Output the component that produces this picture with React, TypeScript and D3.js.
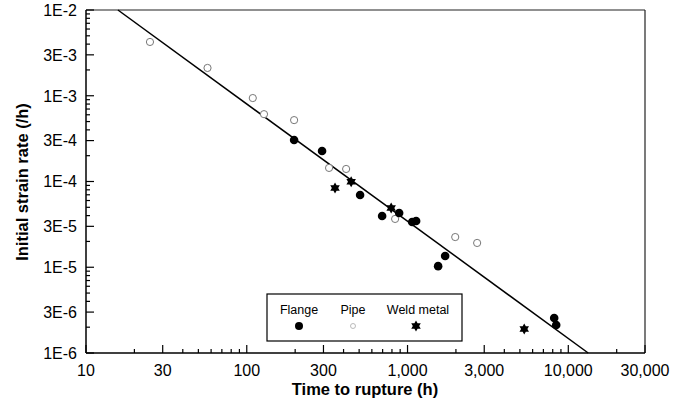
import React from 'react';
import * as d3 from 'd3';

// values (time to rupture in h, initial strain rate in /h)
const flangeTime = [197, 294, 507, 695, 887, 1069, 1131, 1550, 1714, 8170, 8410];
const flangeRate = [3.05e-4, 2.27e-4, 6.96e-5, 3.96e-5, 4.3e-5, 3.37e-5, 3.46e-5, 1.03e-5, 1.35e-5, 2.56e-6, 2.12e-6];

const pipeTime = [25, 57, 109, 128, 197, 325, 415, 837, 1980, 2710];
const pipeRate = [4.24e-3, 2.11e-3, 9.4e-4, 6.1e-4, 5.2e-4, 1.44e-4, 1.4e-4, 3.66e-5, 2.25e-5, 1.92e-5];

const weldTime = [354, 446, 791, 5320];
const weldRate = [8.4e-5, 9.9e-5, 4.9e-5, 1.9e-6];

const fitTime = [15.8, 13300];
const fitRate = [1e-2, 1e-6];

const xTicks = [10, 30, 100, 300, 1000, 3000, 10000, 30000];
const xTickLabels = ['10', '30', '100', '300', '1,000', '3,000', '10,000', '30,000'];
const yTicks = [1e-6, 3e-6, 1e-5, 3e-5, 1e-4, 3e-4, 1e-3, 3e-3, 1e-2];
const yTickLabels = ['1E-6', '3E-6', '1E-5', '3E-5', '1E-4', '3E-4', '1E-3', '3E-3', '1E-2'];

const legendNames = ['Flange', 'Pipe', 'Weld metal'];

const font = '"Liberation Sans", Arial, sans-serif';

// six pointed star
function hexagram(cx: number, cy: number, r: number) {
  const pts: [number, number][] = [];
  for (let i = 0; i < 12; i++) {
    const a = (Math.PI / 6) * i - Math.PI / 2;
    const rr = i % 2 === 0 ? r : r / Math.sqrt(3);
    pts.push([cx + rr * Math.cos(a), cy + rr * Math.sin(a)]);
  }
  return 'M' + pts.map(p => p.join(',')).join('L') + 'Z';
}

export default function App() {
  const left = 86, right = 645, top = 10, bottom = 353;

  const x = d3.scaleLog().domain([10, 30000]).range([left, right]);
  const y = d3.scaleLog().domain([1e-6, 1e-2]).range([bottom, top]);

  // minor ticks 1..9 per decade
  const xMinor: number[] = [];
  for (let k = 1; k <= 4; k++) for (let m = 1; m <= 9; m++) {
    const v = m * Math.pow(10, k);
    if (v <= 30000) xMinor.push(v);
  }
  const yMinor: number[] = [];
  for (let k = -6; k <= -3; k++) for (let m = 1; m <= 9; m++) yMinor.push(m * Math.pow(10, k));
  yMinor.push(1e-2);

  const line = d3.line<number>()
    .x((d, i) => x(fitTime[i]))
    .y(d => y(d));

  const major = (v: number) => {
    const m = Math.round(v / Math.pow(10, Math.floor(Math.log10(v) + 1e-9)));
    return m === 1 || m === 3;
  };

  return (
    <svg width={685} height={405} style={{ position: 'absolute', left: 0, top: 0, background: '#fff' }}>
      {/* frame */}
      <line x1={left} y1={top} x2={right} y2={top} stroke="#222" strokeWidth={1.2} />
      <line x1={right} y1={top} x2={right} y2={bottom} stroke="#222" strokeWidth={1.2} />
      <line x1={left} y1={top} x2={left} y2={bottom} stroke="#000" strokeWidth={1.5} />
      <line x1={left} y1={bottom} x2={right} y2={bottom} stroke="#000" strokeWidth={1.5} />

      {xMinor.map((v, i) => (
        <line key={'xm' + i} x1={x(v)} x2={x(v)} y1={bottom} y2={bottom - (major(v) ? 8 : 4)} stroke="#000" strokeWidth={1.2} />
      ))}
      {yMinor.map((v, i) => (
        <line key={'ym' + i} x1={left} x2={left + (major(v) ? 8 : 4)} y1={y(v)} y2={y(v)} stroke="#000" strokeWidth={1.2} />
      ))}

      {xTicks.map((v, i) => (
        <text key={'xl' + i} x={x(v)} y={bottom + 23} textAnchor="middle" fontFamily={font} fontSize={16}>{xTickLabels[i]}</text>
      ))}
      {yTicks.map((v, i) => (
        <text key={'yl' + i} x={left - 9} y={y(v)} dy="0.36em" textAnchor="end" fontFamily={font} fontSize={16}>{yTickLabels[i]}</text>
      ))}

      <text x={365} y={395} textAnchor="middle" fontFamily={font} fontSize={16.5} fontWeight="bold">Time to rupture (h)</text>
      <text transform={`translate(28,182) rotate(-90)`} textAnchor="middle" fontFamily={font} fontSize={16.5} fontWeight="bold">Initial strain rate (/h)</text>

      {/* fitted line */}
      <path d={line(fitRate) || ''} fill="none" stroke="#000" strokeWidth={1.5} />

      {pipeTime.map((t, i) => (
        <circle key={'p' + i} cx={x(t)} cy={y(pipeRate[i])} r={3.6} fill="#fff" stroke="#777" strokeWidth={1} />
      ))}
      {flangeTime.map((t, i) => (
        <circle key={'f' + i} cx={x(t)} cy={y(flangeRate[i])} r={4.3} fill="#000" />
      ))}
      {weldTime.map((t, i) => (
        <path key={'w' + i} d={hexagram(x(t), y(weldRate[i]), 5.5)} fill="#000" />
      ))}

      {/* legend */}
      <rect x={267} y={294} width={195} height={47} fill="#fff" stroke="#000" strokeWidth={1.2} />
      {legendNames.map((n, i) => {
        const cx = [299, 353, 418][i];
        return (
          <g key={'lg' + i}>
            <text x={cx} y={314} textAnchor="middle" fontFamily={font} fontSize={12.5}>{n}</text>
            {i === 0 && <circle cx={cx} cy={326} r={4} fill="#000" />}
            {i === 1 && <circle cx={cx} cy={326} r={2.5} fill="#fff" stroke="#aaa" strokeWidth={0.8} />}
            {i === 2 && <path d={hexagram(cx - 2, 326, 5.5)} fill="#000" />}
          </g>
        );
      })}
    </svg>
  );
}
